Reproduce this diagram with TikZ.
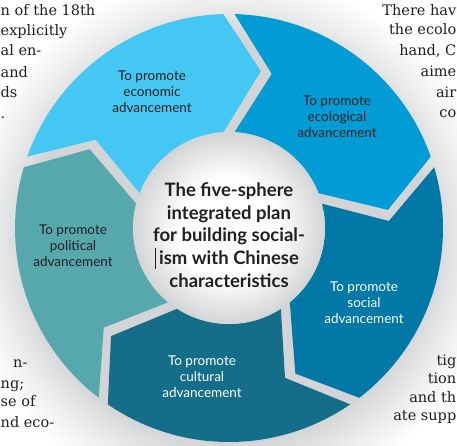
\documentclass[tikz,border=0pt]{standalone}
\usepackage{fontspec}
\setmainfont{DejaVu Serif}
\setsansfont{Lato}

\definecolor{economic}{HTML}{45C7F4}
\definecolor{ecological}{HTML}{019CD6}
\definecolor{social}{HTML}{0278A7}
\definecolor{cultural}{HTML}{146E8A}
\definecolor{political}{HTML}{56A8AD}
\definecolor{gapgray}{HTML}{D3D4D6}
\definecolor{ink}{HTML}{231F20}

\pgfdeclareradialshading{halo}{\pgfpointorigin}{color(0bp)=(gapgray); color(18bp)=(gapgray); color(21bp)=(gapgray!45); color(24bp)=(white); color(50bp)=(white)}
\pgfdeclareradialshading{hub}{\pgfpointorigin}{color(0bp)=(white); color(13bp)=(white); color(25bp)=(gapgray); color(50bp)=(gapgray)}

\tikzset{
  sphere/.style={font=\sffamily\fontsize{13.5}{16}\selectfont,align=center,inner sep=0pt},
  plan/.style={font=\sffamily\bfseries\fontsize{18.5}{22.7}\selectfont,align=center,text=ink,inner sep=0pt},
  bodyleft/.style={anchor=base west,inner sep=0pt,text=ink,font=\fontsize{14.5}{20}\selectfont},
  bodyright/.style={anchor=base east,inner sep=0pt,text=ink,font=\fontsize{14.5}{20}\selectfont},
}

\begin{document}
\begin{tikzpicture}[x=1pt,y=1pt]
      \clip (-229,-217) rectangle (228,228);
      \fill[white] (-229,-217) rectangle (228,228);
      \shade[shading=halo] (0,-12) circle[radius=280];
      % the five spheres, each one pointing clockwise into the next
      \foreach \area/\e/\lx/\ly/\tc in {economic/90/-77/136/ink, ecological/18/108/111/ink, social/-54/135/-75/white, cultural/-126/-27/-149/white, political/-198/-156/-18/ink}
      {
        \pgfmathsetmacro{\s}{\e+72}
        \fill[\area] (\s-1.5:214) arc[start angle=\s-1.5, end angle=\e+1.5, radius=214]
          -- (\e-11.5:160) -- (\e+3.3:96)
          arc[start angle=\e+3.3, end angle=\s-3.3, radius=96]
          -- (\s-15.5:160) -- cycle;
        \node [sphere, text=\tc] at (\lx,\ly) (\area) {To promote\\\area\\advancement};
      }
      \shade[shading=hub] (0,0) circle[radius=96];
      \node [plan] at (0,-7) (hub) {The five-sphere\\integrated plan\\for building social-\\\llap{\rule[-0.25em]{0.7pt}{1.15em}\,}ism with Chinese\\characteristics};
      % body text running round the figure
      \foreach \txt/\y [count=\i] in {{n of the 18th}/212, explicitly/193, {al en-}/173, and/151, ds/131, ./110}
      {
        \node [bodyleft] at (-228.5,\y) (tl\i) {\txt};
      }
      \foreach \txt/\y [count=\i] in {{There hav}/213, {the ecolo}/194, {hand, C}/173, aime/152, air/131, co/111}
      {
        \node [bodyright] at (227.5,\y) (tr\i) {\txt};
      }
      \foreach \txt/\x/\y [count=\i] in {n-/-216/-139, ng;/-228.5/-160, {se of}/-228.5/-178, {nd eco-}/-228.5/-199}
      {
        \node [bodyleft] at (\x,\y) (bl\i) {\txt};
      }
      \foreach \txt/\y [count=\i] in {tig/-137, tion/-155, {and th}/-174, {ate supp}/-192}
      {
        \node [bodyright] at (227.5,\y) (br\i) {\txt};
      }
    \end{tikzpicture}
\end{document}
